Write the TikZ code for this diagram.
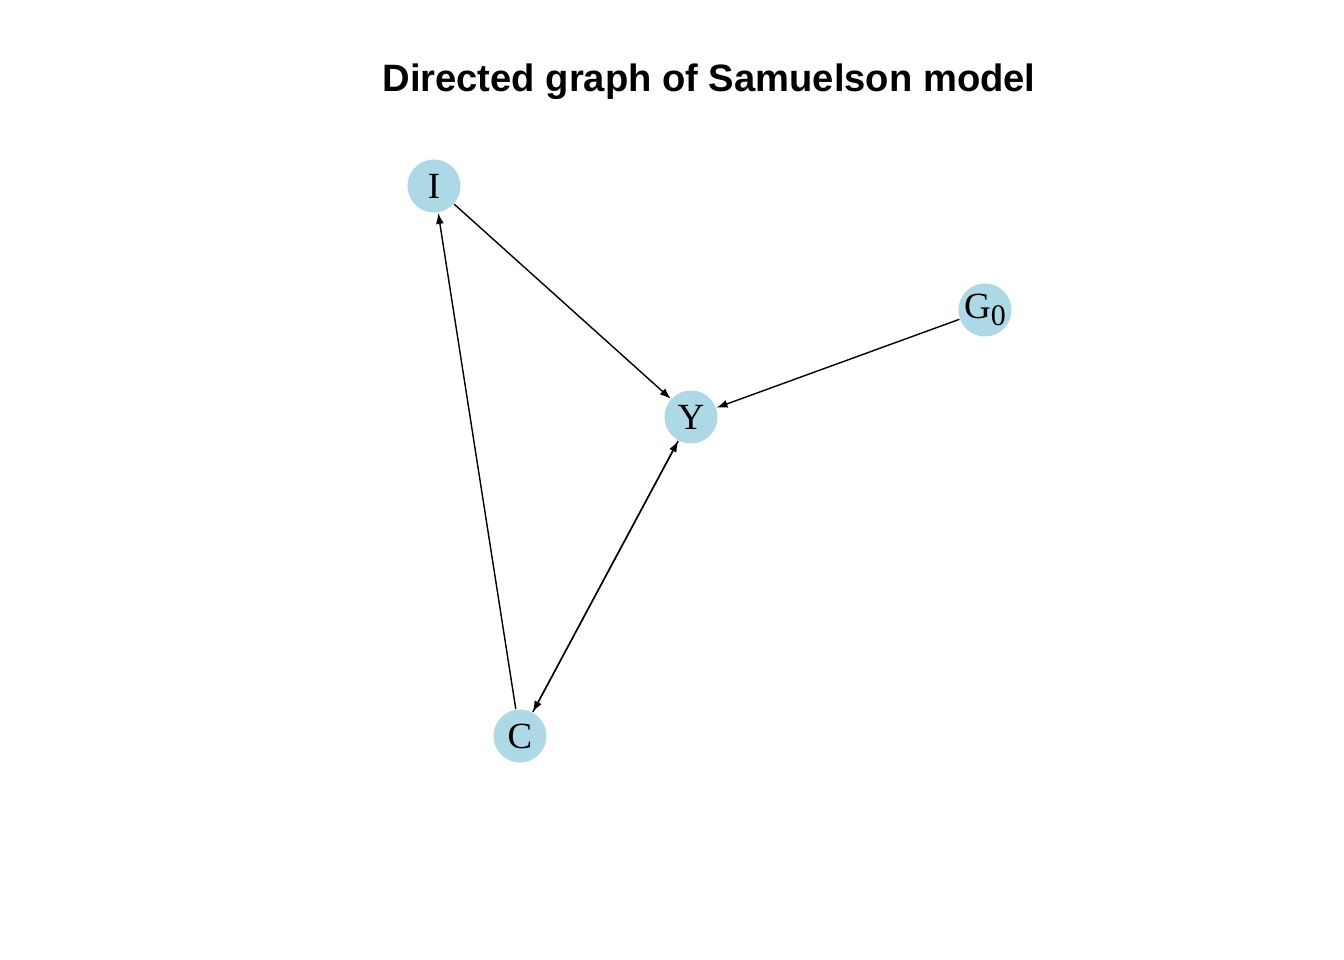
\documentclass[tikz,border=0pt]{standalone}
\usepackage{fontspec}
\setmainfont{Liberation Serif}
\newfontfamily\titlefont{Liberation Sans}
\usepackage{xcolor}
\usetikzlibrary{arrows.meta}
\definecolor{nodeblue}{RGB}{173,216,230}
\begin{document}
\begin{tikzpicture}[
    x=0.01cm, y=-0.01cm,
    every node/.style={circle,fill=nodeblue,minimum size=0.53cm,inner sep=0pt,font=\fontsize{10.5}{12}\selectfont},
    edge/.style={draw,line width=0.4pt,-{Latex[length=1.1mm,width=0.8mm]}}
  ]
    \useasboundingbox (0,0) rectangle (1344,960);
    \node[fill=none,font=\titlefont\bfseries\fontsize{10.85}{12}\selectfont] (title) at (709,82) {Directed graph of Samuelson model};
    \node (I) at (434,186) {I};
    \node (Y) at (691,417) {Y};
    \node (G) at (985,310) {G\raisebox{-0.4ex}{\fontsize{8.5}{10}\selectfont 0}};
    \node (C) at (520,736) {C};
    \path[edge] (I) -- (Y);
    \path[edge] (G) -- (Y);
    \path[edge] (C) -- (I);
    \path[edge] (Y) -- (C);
    \path[edge] (C) -- (Y);
  \end{tikzpicture}
\end{document}
